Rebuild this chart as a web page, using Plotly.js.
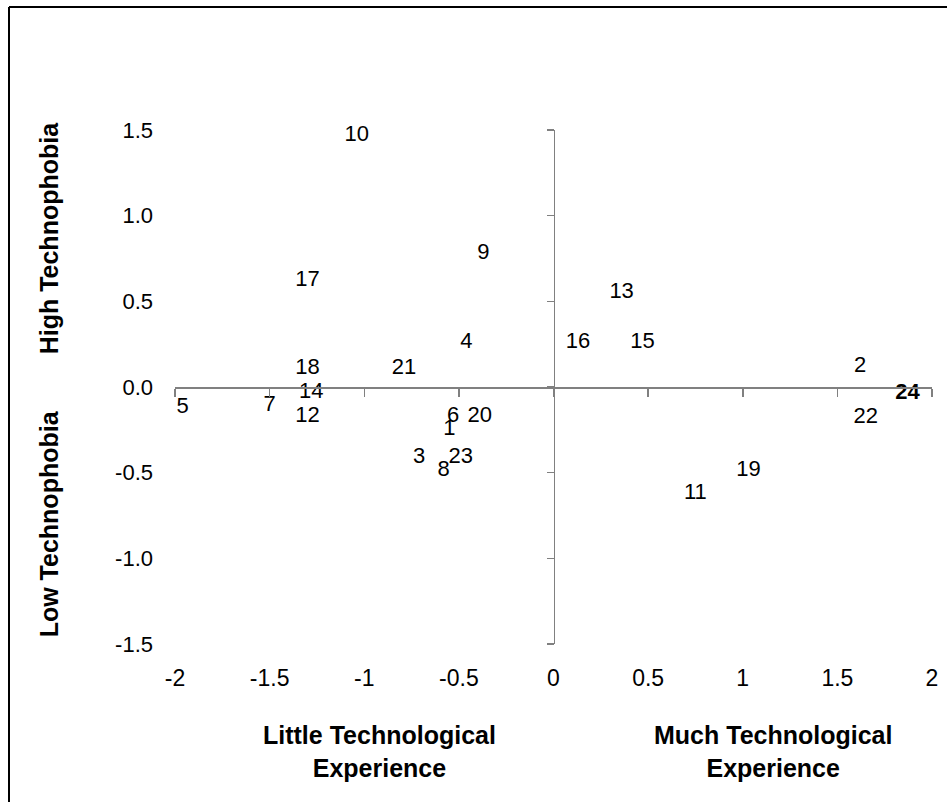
<!DOCTYPE html>
<html>
<head>
<meta charset="utf-8">
<script src="https://cdn.plot.ly/plotly-3.0.1.min.js"></script>
<style>html,body{margin:0;padding:0;background:#fff;}</style>
</head>
<body>
<div id="chart" style="width:947px;height:802px;"></div>
<script>
// Participant labels and their positions (experience, technophobia)
const labels = ['1','2','3','4','5','6','7','8','9','10','11','12','13','14','15','16','17','18','19','20','21','22','23','24'];
const experience = [-0.55, 1.62, -0.71, -0.46, -1.96, -0.53, -1.50, -0.58, -0.37, -1.04, 0.75, -1.30, 0.36, -1.28, 0.47, 0.13, -1.30, -1.30, 1.03, -0.39, -0.79, 1.65, -0.49, 1.87];
const technophobia = [-0.25, 0.12, -0.41, 0.26, -0.12, -0.17, -0.11, -0.49, 0.78, 1.47, -0.62, -0.17, 0.55, -0.03, 0.26, 0.26, 0.62, 0.11, -0.49, -0.17, 0.11, -0.18, -0.41, -0.04];
const boldLabels = ['24'];

const xTickVals = [-2, -1.5, -1, -0.5, 0, 0.5, 1, 1.5, 2];
const xTickText = ['-2', '-1.5', '-1', '-0.5', '0', '0.5', '1', '1.5', '2'];
const yTickVals = [-1.5, -1, -0.5, 0, 0.5, 1, 1.5];
const yTickText = ['-1.5', '-1.0', '-0.5', '0.0', '0.5', '1.0', '1.5'];

const txt = labels.map(l => boldLabels.includes(l) ? '<b>' + l + '</b>' : l);
const FONT = 'Arial, Liberation Sans, sans-serif';

const traces = [
  {
    type: 'scatter', mode: 'text',
    x: experience, y: technophobia, text: txt,
    textposition: 'middle center', cliponaxis: false,
    textfont: {family: FONT, size: 22, color: '#000'},
    hoverinfo: 'skip', showlegend: false
  },
  {
    type: 'scatter', mode: 'markers', x: [0], y: [0], xaxis: 'x2', yaxis: 'y2',
    marker: {opacity: 0, size: 1}, hoverinfo: 'skip', showlegend: false
  }
];

const grey = '#808080';
const layout = {
  width: 947, height: 802,
  margin: {l: 175, r: 15, t: 130, b: 158, pad: 0},
  paper_bgcolor: '#fff', plot_bgcolor: 'rgba(0,0,0,0)',
  showlegend: false,
  xaxis: {
    range: [-2, 2], tickvals: xTickVals, ticktext: xTickText,
    showline: false, showgrid: false, zeroline: false, ticks: '',
    ticklabelstandoff: 18,
    tickfont: {family: FONT, size: 23, color: '#000'},
    fixedrange: true
  },
  yaxis: {
    range: [-1.5, 1.5], tickvals: yTickVals, ticktext: yTickText,
    showline: false, showgrid: false, zeroline: false, ticks: '',
    ticklabelstandoff: 21,
    tickfont: {family: FONT, size: 22, color: '#000'},
    fixedrange: true
  },
  xaxis2: {
    overlaying: 'x', anchor: 'free', position: 0.5,
    range: [-2, 2], tickvals: xTickVals, showticklabels: false,
    showline: true, linecolor: grey, linewidth: 1.5,
    ticks: 'outside', ticklen: 8, tickwidth: 1.5, tickcolor: grey,
    showgrid: false, zeroline: false, fixedrange: true
  },
  yaxis2: {
    overlaying: 'y', anchor: 'free', position: 0.5,
    range: [-1.5, 1.5], tickvals: yTickVals, showticklabels: false,
    showline: true, linecolor: grey, linewidth: 1.5,
    ticks: 'outside', ticklen: 7, tickwidth: 1.5, tickcolor: grey,
    showgrid: false, zeroline: false, fixedrange: true
  },
  annotations: [
    {text: '<b>High Technophobia</b>', xref: 'paper', yref: 'paper', x: -0.166, y: (644 - 238) / 514,
     textangle: -90, showarrow: false, xanchor: 'center', yanchor: 'middle',
     font: {family: FONT, size: 25, color: '#000'}},
    {text: '<b>Low Technophobia</b>', xref: 'paper', yref: 'paper', x: -0.166, y: (644 - 524) / 514,
     textangle: -90, showarrow: false, xanchor: 'center', yanchor: 'middle',
     font: {family: FONT, size: 25, color: '#000'}},
    {text: '<b>Little Technological<br>Experience</b>', xref: 'paper', yref: 'paper',
     x: (379 - 175) / 757, y: (644 - 751) / 514, showarrow: false, xanchor: 'center', yanchor: 'middle',
     font: {family: FONT, size: 25, color: '#000'}},
    {text: '<b>Much Technological<br>Experience</b>', xref: 'paper', yref: 'paper',
     x: (773 - 175) / 757, y: (644 - 751) / 514, showarrow: false, xanchor: 'center', yanchor: 'middle',
     font: {family: FONT, size: 25, color: '#000'}}
  ],
  shapes: [
    {type: 'line', xref: 'paper', yref: 'paper', x0: (9 - 175) / 757, x1: (9 - 175) / 757,
     y0: (644 - 7) / 514, y1: (644 - 810) / 514, line: {color: '#000', width: 2}},
    {type: 'line', xref: 'paper', yref: 'paper', x0: (9 - 175) / 757, x1: (960 - 175) / 757,
     y0: (644 - 7) / 514, y1: (644 - 7) / 514, line: {color: '#000', width: 2}}
  ]
};

Plotly.newPlot('chart', traces, layout, {staticPlot: true, displayModeBar: false});
</script>
</body>
</html>
